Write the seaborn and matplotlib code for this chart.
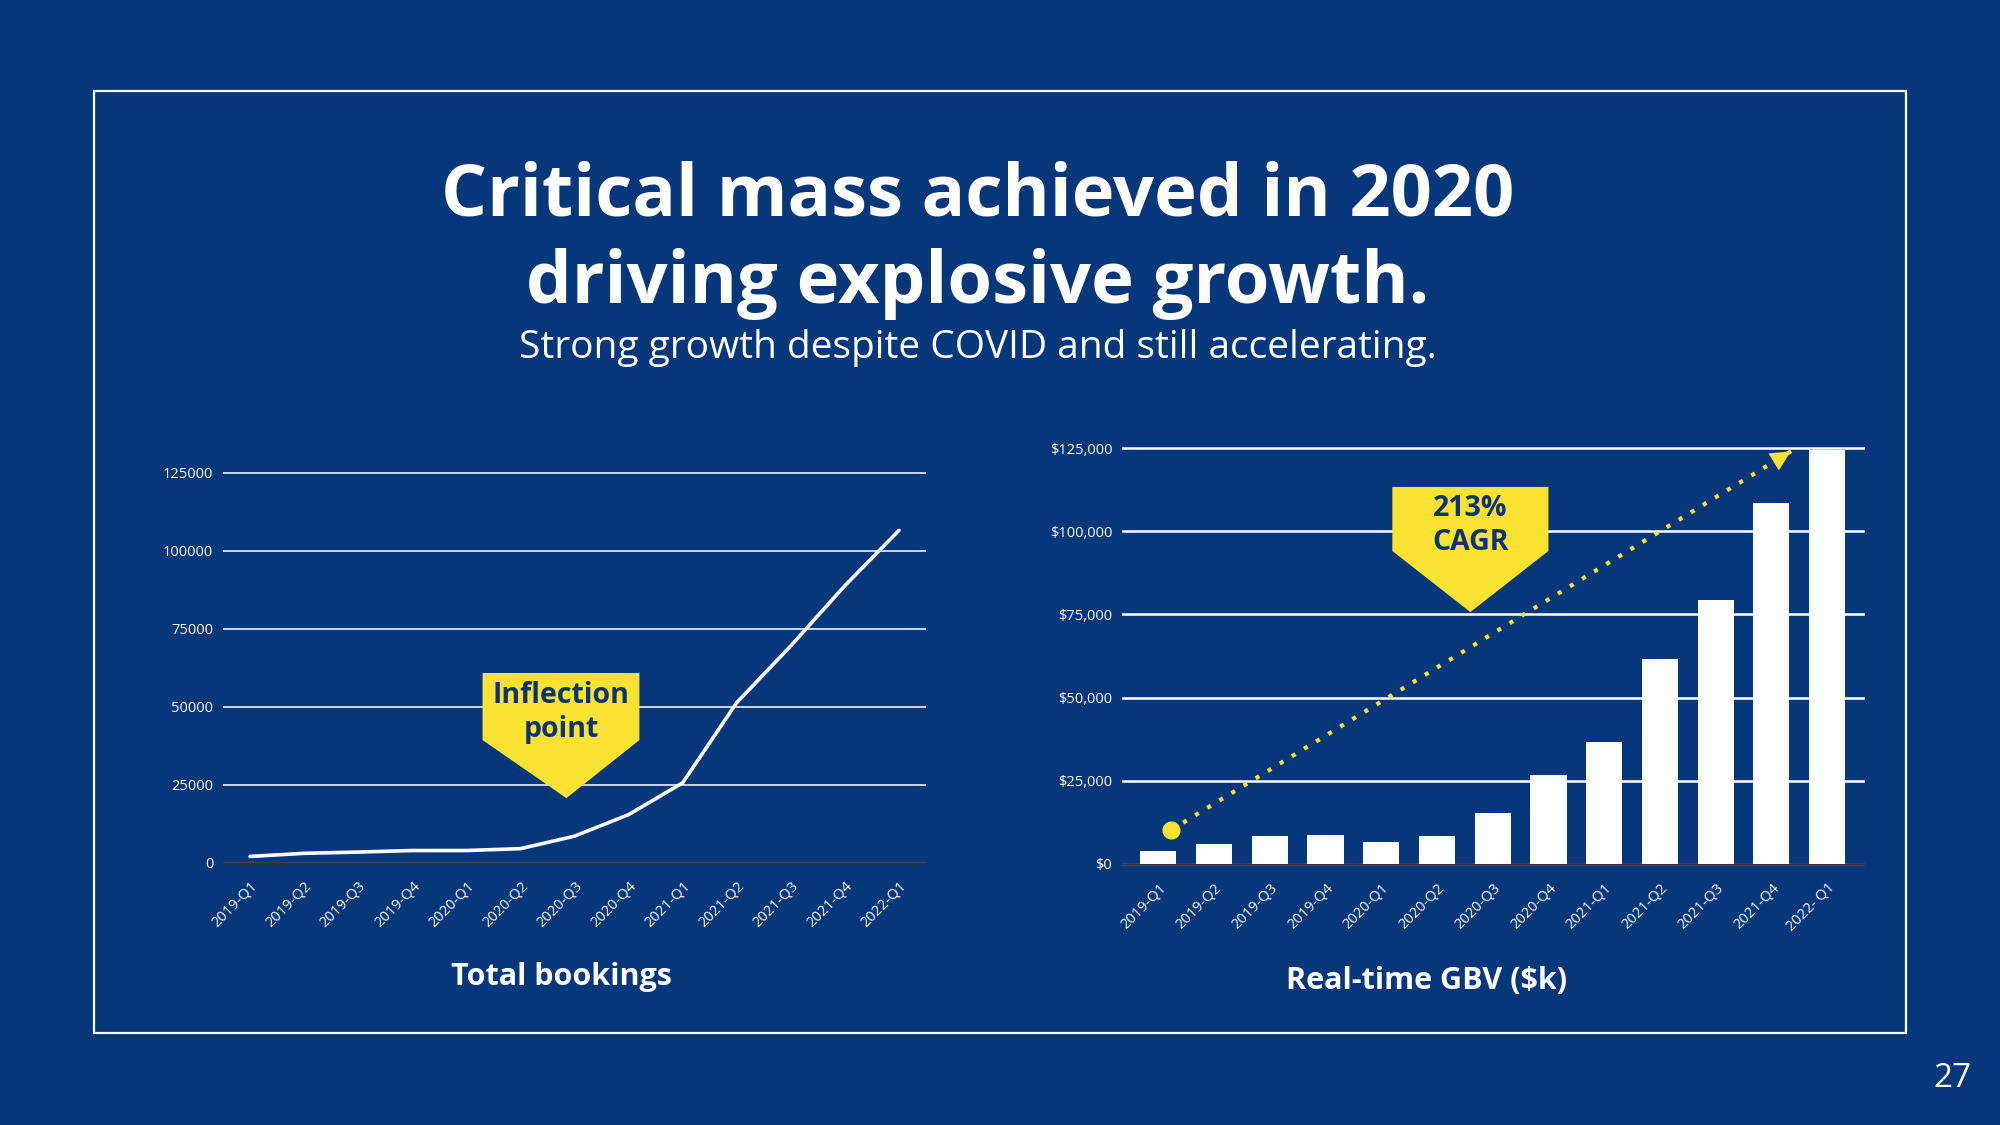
import numpy as np
import pandas as pd
import matplotlib
matplotlib.use("Agg")
import matplotlib.pyplot as plt
from matplotlib.patches import Polygon, Rectangle
import seaborn as sns

# data
quarters = ["2019-Q1", "2019-Q2", "2019-Q3", "2019-Q4",
            "2020-Q1", "2020-Q2", "2020-Q3", "2020-Q4",
            "2021-Q1", "2021-Q2", "2021-Q3", "2021-Q4", "2022-Q1"]
gbv_labels = quarters[:-1] + ["2022- Q1"]
bookings = [2100, 3100, 3500, 4000, 4000, 4600, 8600, 15500,
            25700, 51400, 69600, 88900, 106600]
gbv = [4000, 6100, 8400, 8800, 6600, 8400, 15300, 26600,
       36600, 61600, 79300, 108600, 124300]
bookings_ticks = [0, 25000, 50000, 75000, 100000, 125000]
gbv_ticks = [0, 25000, 50000, 75000, 100000, 125000]
cagr_start = (0.23, 10200)
cagr_end = (11.39, 124400)

BG = "#07377b"
YELLOW = "#f9e232"
NAVY = "#0c3373"
BASE = "#2a3042"
W, H = 2000, 1125

sns.set_theme(style="white")
plt.rcParams["font.family"] = ["Open Sans", "DejaVu Sans"]


def axes_rect(x0, x1, y_zero, y_top, top_val, lo, hi):
    # axes rectangle (figure fractions) from pixel landmarks on the slide
    ppu = (y_zero - y_top) / top_val
    bottom_px = y_zero - lo * ppu
    top_px = y_zero - hi * ppu
    return [x0 / W, 1 - bottom_px / H, (x1 - x0) / W, (bottom_px - top_px) / H]


def style_axes(ax, ticks, labels, xlabels, grid_lw):
    ax.set_facecolor("none")
    for s in ax.spines.values():
        s.set_visible(False)
    ax.set_yticks(ticks)
    ax.set_yticklabels(labels, color="white", fontsize=10.5)
    ax.set_xticks(range(len(xlabels)))
    ax.set_xticklabels(xlabels, rotation=45, ha="right", rotation_mode="anchor",
                       color="white", fontsize=10.5)
    ax.tick_params(axis="both", length=0)
    ax.tick_params(axis="y", pad=7)
    ax.tick_params(axis="x", pad=8)
    ax.yaxis.grid(True, color="white", lw=grid_lw)
    ax.xaxis.grid(False)
    ax.set_axisbelow(True)
    ax.axhline(0, color=BASE, lw=2, zorder=1.5)
    ax.set_xlabel("")
    ax.set_ylabel("")


fig = plt.figure(figsize=(20, 11.25), dpi=100, facecolor=BG)

# slide frame
fig.patches.append(Rectangle((94 / W, 1 - 1033 / H), (1906 - 94) / W, (1033 - 91) / H,
                             transform=fig.transFigure, fill=False, ec="white", lw=1.6))

fig.text(0.489, 1 - 215 / H, "Critical mass achieved in 2020", ha="center", va="baseline",
         color="white", fontsize=52, fontweight="bold")
fig.text(0.489, 1 - 303 / H, "driving explosive growth.", ha="center", va="baseline",
         color="white", fontsize=52, fontweight="bold")
fig.text(0.489, 1 - 358 / H, "Strong growth despite COVID and still accelerating.",
         ha="center", va="baseline", color="white", fontsize=28)
fig.text(0.976, 0.041, "27", ha="center", va="center", color="white", fontsize=24)

# left: total bookings
ax1 = fig.add_axes(axes_rect(223, 926, 863, 473, 125000, -1500, 127000))
df1 = pd.DataFrame({"pos": range(len(quarters)), "bookings": bookings})
sns.lineplot(data=df1, x="pos", y="bookings", color="white", lw=2.6, ax=ax1, zorder=3)
ax1.set_xlim(-0.5, 12.5)
ax1.set_ylim(-1500, 127000)
style_axes(ax1, bookings_ticks, [str(t) for t in bookings_ticks], quarters, 1.1)

ax1.add_patch(Polygon([(4.30, 60900), (7.20, 60900), (7.20, 39400), (5.85, 20800), (4.30, 39400)],
                      closed=True, fc=YELLOW, ec="none", zorder=4))
ax1.text(5.75, 48200, "Inflection\npoint", ha="center", va="center", color=NAVY,
         fontsize=20.5, fontweight="bold", linespacing=1.2, zorder=5)
fig.text(561 / W, 1 - 985 / H, "Total bookings", ha="center", va="baseline",
         color="white", fontsize=22, fontweight="bold")

# right: real-time GBV bars
ax2 = fig.add_axes(axes_rect(1122, 1865, 864, 448, 125000, -1500, 127000))
sns.barplot(x=gbv_labels, y=gbv, color="white", saturation=1, width=0.65,
            edgecolor="none", ax=ax2, zorder=2)
ax2.set_xlim(-0.65, 12.68)
ax2.set_ylim(-1500, 127000)
style_axes(ax2, gbv_ticks, [f"${t:,}" for t in gbv_ticks], gbv_labels, 1.8)

ax2.plot([cagr_start[0], cagr_end[0]], [cagr_start[1], cagr_end[1]], color=YELLOW,
         lw=3, ls=(0, (1, 2.4)), zorder=6)
ax2.plot([cagr_start[0]], [cagr_start[1]], "o", color=YELLOW, ms=12, zorder=7)
tail = (cagr_end[0] - 0.03 * (cagr_end[0] - cagr_start[0]),
        cagr_end[1] - 0.03 * (cagr_end[1] - cagr_start[1]))
ax2.annotate("", xy=cagr_end, xytext=tail,
             arrowprops=dict(arrowstyle="-|>", color=YELLOW, lw=0, mutation_scale=36),
             zorder=7)

ax2.add_patch(Polygon([(4.20, 113300), (7.00, 113300), (7.00, 94050), (5.60, 75700), (4.20, 94050)],
                      closed=True, fc=YELLOW, ec="none", zorder=4))
ax2.text(5.6, 101700, "213%\nCAGR", ha="center", va="center", color=NAVY,
         fontsize=20.5, fontweight="bold", linespacing=1.2, zorder=5)
fig.text(1427 / W, 1 - 989 / H, "Real-time GBV ($k)", ha="center", va="baseline",
         color="white", fontsize=22, fontweight="bold")

fig.savefig("out.png", dpi=100, facecolor=BG)
